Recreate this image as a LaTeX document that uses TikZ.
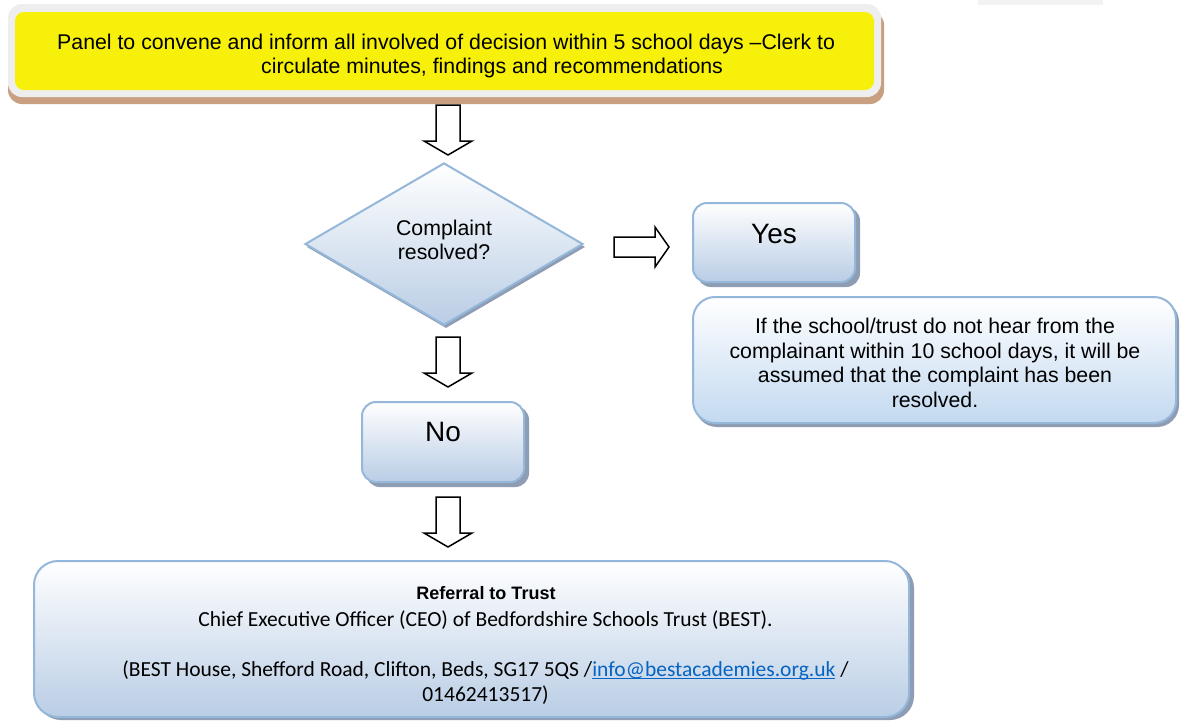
\documentclass[tikz,border=0pt]{standalone}
\usepackage{fontspec}
\usepackage{calc}
\setmainfont{Liberation Sans}
\newfontfamily\carl{Carlito}
\usetikzlibrary{shapes.geometric}
\definecolor{bord}{HTML}{95B7DA}
\definecolor{shad}{HTML}{8E9DB3}
\definecolor{gradb}{HTML}{B9CDE5}
\definecolor{gradc}{HTML}{C3D9F0}
\definecolor{linkc}{HTML}{0563C1}
\newcommand{\ulink}[1]{\textcolor{linkc}{\rlap{\rule[-2.6pt]{\widthof{#1}}{0.9pt}}#1}}
\tikzset{
  x=1pt,y=-1pt,
  boxbase/.style={rectangle,rounded corners=#1,inner sep=0pt,outer sep=0pt,anchor=north west},
  gradbox/.style={boxbase=#1,draw=bord,line width=2pt,top color=white,bottom color=gradb},
  shadbox/.style={boxbase=#1,fill=shad},
  txt/.style={font=\fontsize{21.3}{23.5}\selectfont,align=center,text=black,inner sep=0pt},
  carltxt/.style={font=\carl\fontsize{21.5}{25}\selectfont,align=center,text=black,inner sep=0pt},
  blockarrow/.style={draw=black,line width=1.5pt,fill=white,line join=miter},
  down block/.pic={\draw[blockarrow] (-12,0)--(12,0)--(12,36)--(24,36)--(0,50)--(-24,36)--(-12,36)--cycle;},
  right block/.pic={\draw[blockarrow] (0,-10)--(41,-10)--(41,-20)--(55,0)--(41,20)--(41,10)--(0,10)--cycle;},
}
\begin{document}
\begin{tikzpicture}
\useasboundingbox (0,0) rectangle (1186,721);
\fill[white] (0,0) rectangle (1186,721);
% faint clipped text remnant at the top edge
\fill[gray!10] (978,0) rectangle (1103,5);
% top box
\node[shadbox=14pt,fill={rgb,255:red,200;green,159;blue,128},minimum width=876pt,minimum height=93pt] (topshadow) at (8,11) {};
\node[boxbase=14pt,fill={rgb,255:red,238;green,238;blue,238},minimum width=873pt,minimum height=93pt] (topouter) at (8,4) {};
\node[boxbase=9pt,fill={rgb,255:red,247;green,240;blue,10},minimum width=859pt,minimum height=78pt] (topbox) at (15,12) {};
\node[txt,align=left,anchor=north west] (toptext) at (57,34) {Panel to convene and inform all involved of decision within 5 school days –Clerk to\\\hspace*{204pt}circulate minutes, findings and recommendations};
% arrows
\pic (a1) at (448,105) {down block};
\pic (a2) at (448,337) {down block};
\pic (a3) at (448,497) {down block};
\pic (a4) at (614,247) {right block};
% diamond
\node[diamond,fill=shad,inner sep=0pt,minimum width=278pt,minimum height=162pt] (decshadow) at (446,247) {};
\node[diamond,draw=bord,line width=2pt,top color=white,bottom color=gradb,inner sep=0pt,minimum width=278pt,minimum height=162pt] (decision) at (444,244) {};
\node[txt] (dectext) at (444,240) {Complaint\\resolved?};
% yes
\node[shadbox=14pt,minimum width=163pt,minimum height=80pt] (yesshadow) at (697,207) {};
\node[gradbox=14pt,minimum width=162pt,minimum height=79pt] (yes) at (693,203) {};
\node[txt,font=\fontsize{28}{32}\selectfont] (yestext) at (774,234) {Yes};
% if
\node[shadbox=22pt,minimum width=484pt,minimum height=127pt] (ifshadow) at (695,300) {};
\node[gradbox=22pt,bottom color=gradc,minimum width=483pt,minimum height=126pt] (ifbox) at (693,297) {};
\node[txt,font=\fontsize{21.3}{24.6}\selectfont] (iftext) at (935,363) {If the school/trust do not hear from the\\complainant within 10 school days, it will be\\assumed that the complaint has been\\resolved.};
% no
\node[shadbox=14pt,minimum width=163pt,minimum height=81pt] (noshadow) at (366,406) {};
\node[gradbox=14pt,minimum width=162pt,minimum height=80pt] (no) at (362,402) {};
\node[txt,font=\fontsize{28}{32}\selectfont] (notext) at (443,432) {No};
% referral
\node[shadbox=24pt,minimum width=877pt,minimum height=156pt] (refshadow) at (37,564) {};
\node[gradbox=24pt,minimum width=875pt,minimum height=156pt] (referral) at (34,561) {};
\node[txt,font=\bfseries\fontsize{18}{22}\selectfont] (reftitle) at (486,593) {Referral to Trust};
\node[carltxt] (reftext) at (485.5,657.5) {Chief Executive Officer (CEO) of Bedfordshire Schools Trust (BEST).\\[25.5pt](BEST House, Shefford Road, Clifton, Beds, SG17 5QS /\ulink{info@bestacademies.org.uk} /\\01462413517)};
\end{tikzpicture}
\end{document}
